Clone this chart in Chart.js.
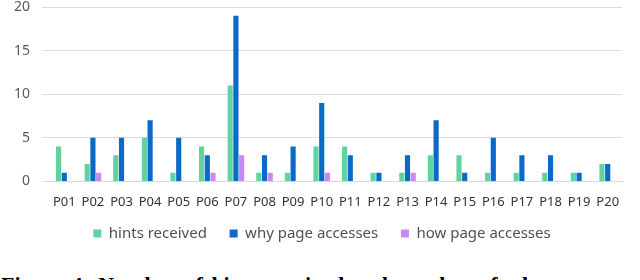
<!DOCTYPE html>
<html>
<head>
<meta charset="utf-8">
<script src="https://cdn.jsdelivr.net/npm/chart.js@4/dist/chart.umd.min.js"></script>
<style>
  html, body { margin: 0; padding: 0; background: #fff; overflow: hidden; }
  #wrap { position: absolute; left: 0; top: 0; width: 640px; height: 251px; }
  #caption {
    position: absolute; left: 1px; top: 272px; white-space: nowrap; word-spacing: 3px;
    font-family: "Liberation Serif", serif; font-weight: bold; font-size: 22px; color: #000;
  }
</style>
</head>
<body>
<div id="wrap"><canvas id="bar_chart"></canvas></div>
<div id="caption">Figure 4: Number of hints received and number of why page accesses and how page accesses per participant</div>
<script>
var participants = ["P01", "P02", "P03", "P04", "P05", "P06", "P07", "P08", "P09", "P10",
                    "P11", "P12", "P13", "P14", "P15", "P16", "P17", "P18", "P19", "P20"];
var hintsReceived = [4, 2, 3, 5, 1, 4, 11, 1, 1, 4, 4, 1, 1, 3, 3, 1, 1, 1, 1, 2];
var whyAccesses   = [1, 5, 5, 7, 5, 3, 19, 3, 4, 9, 3, 1, 3, 7, 1, 5, 3, 3, 1, 2];
var howAccesses   = [0, 1, 0, 0, 0, 1, 3, 1, 0, 1, 0, 0, 1, 0, 0, 0, 0, 0, 0, 0];
var yTicks = [0, 5, 10, 15, 20];

// legend items sit far apart in the original; pad labels instead of a big legend padding
var gap = '\u00a0\u00a0\u00a0';

// legend is centred on the page, not on the padded area
var shiftLegend = {
    id: 'shiftLegend',
    afterLayout: function (chart) {
        chart.legend.left += 10;
        chart.legend.right += 10;
    }
};

new Chart(document.getElementById("bar_chart").getContext("2d"), {
    type: 'bar',
    data: {
        labels: participants,
        datasets: [
            { label: "hints received" + gap, data: hintsReceived, backgroundColor: '#62d39f' },
            { label: "why page accesses" + gap, data: whyAccesses, backgroundColor: '#0b69c7' },
            { label: "how page accesses", data: howAccesses, backgroundColor: '#c88af0' }
        ]
    },
    options: {
        responsive: true,
        maintainAspectRatio: false,
        animation: false,
        layout: { padding: { left: 2, right: 18, top: 0, bottom: 0 } },
        datasets: { bar: { categoryPercentage: 0.6, barPercentage: 0.9 } },
        plugins: {
            legend: {
                position: 'bottom',
                labels: {
                    boxWidth: 8, boxHeight: 8, padding: 11,
                    color: '#505050',
                    font: { family: "Noto Sans", size: 15 }
                }
            },
            tooltip: { enabled: false }
        },
        scales: {
            x: {
                grid: { display: false },
                border: { color: '#d9d9d9' },
                ticks: { color: '#333333', padding: 5, font: { family: "Noto Sans", size: 13 }, maxRotation: 0, autoSkip: false }
            },
            y: {
                min: 0, max: 20,
                afterBuildTicks: function (axis) { axis.ticks = yTicks.map(function (v) { return { value: v }; }); },
                // tick padding is only wanted sideways, not above the top tick
                afterFit: function (axis) { axis.paddingTop = 7; },
                grid: { color: '#dcdcdc' },
                border: { display: false },
                ticks: { color: '#595959', padding: 12, font: { family: "Noto Sans", size: 14 } }
            }
        }
    },
    plugins: [shiftLegend]
});
</script>
</body>
</html>
